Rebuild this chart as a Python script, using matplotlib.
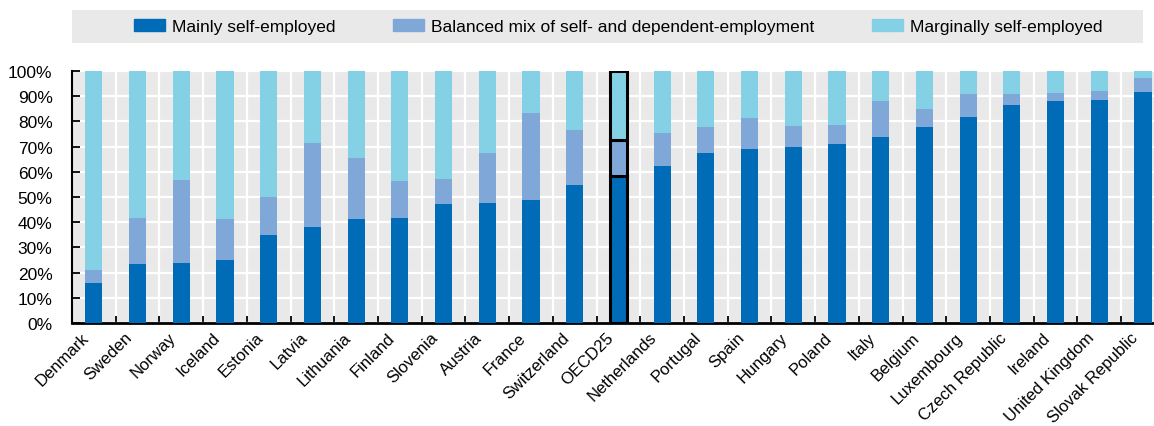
import matplotlib
matplotlib.use("Agg")
import matplotlib.pyplot as plt
import matplotlib.transforms as mtransforms
from matplotlib.patches import Rectangle, Patch
import numpy as np

plt.rcParams['font.family'] = ['Liberation Sans', 'DejaVu Sans']

paises = ["Denmark", "Sweden", "Norway", "Iceland", "Estonia", "Latvia", "Lithuania",
          "Finland", "Slovenia", "Austria", "France", "Switzerland", "OECD25",
          "Netherlands", "Portugal", "Spain", "Hungary", "Poland", "Italy", "Belgium",
          "Luxembourg", "Czech Republic", "Ireland", "United Kingdom", "Slovak Republic"]

# porcentajes de cada grupo
mainly = [16, 23.3, 23.9, 24.9, 35, 38, 41.2, 41.8, 47.1, 47.5, 48.8, 54.6, 58.5,
          62.3, 67.4, 69.0, 69.8, 71.2, 74.0, 77.7, 81.8, 86.5, 88.1, 88.3, 91.8]
balanced = [5, 18.2, 32.8, 16.5, 15, 33.6, 24.1, 14.6, 10.0, 19.9, 34.5, 21.9, 14.0,
            12.9, 10.4, 12.4, 8.4, 7.4, 14.0, 7.4, 9.2, 4.5, 3.3, 3.9, 5.3]
marginal = [100 - m - b for m, b in zip(mainly, balanced)]

c_main = "#006bb6"
c_bal = "#7fa8d9"
c_marg = "#84d1e5"
fondo = "#e9e9e9"

fig = plt.figure(figsize=(11.54, 4.27), dpi=100)
ax = fig.add_axes([0.0624, 0.2412, 0.947, 0.5902])
ax.set_facecolor(fondo)

x = np.arange(len(paises))
ancho = 0.39
oecd = paises.index("OECD25")
bordes = ["black" if i == oecd else "none" for i in x]
lw = [2.2 if i == oecd else 0 for i in x]

ax.bar(x, mainly, ancho, color=c_main, edgecolor=bordes, linewidth=lw, zorder=3)
ax.bar(x, balanced, ancho, bottom=mainly, color=c_bal, edgecolor=bordes, linewidth=lw, zorder=3)
bottom2 = [m + b for m, b in zip(mainly, balanced)]
ax.bar(x, marginal, ancho, bottom=bottom2, color=c_marg, edgecolor=bordes, linewidth=lw, zorder=3)

ax.set_xlim(-0.5, len(paises) - 0.5)
ax.set_ylim(0, 100)
ax.set_yticks(range(0, 101, 10))
ax.set_yticklabels([f"{v}%" for v in range(0, 101, 10)], fontsize=12.5)
ax.set_xticks(x)
ax.set_xticklabels(paises, rotation=45, ha="right", va="top", rotation_mode="anchor", fontsize=12)
ax.set_xticks(x[:-1] + 0.5, minor=True)
ax.tick_params(axis="x", which="major", length=0, pad=6)
ax.tick_params(axis="x", which="minor", length=5, width=1.3, direction="in", color="black")
ax.tick_params(axis="y", length=6, width=1.3, direction="in", pad=14)

# mover etiquetas un poco a la izquierda
desplaza = mtransforms.ScaledTranslation(-0.13, 0.02, fig.dpi_scale_trans)
for lab in ax.get_xticklabels():
    lab.set_transform(lab.get_transform() + desplaza)

ax.grid(axis="y", color="white", linewidth=1.6, zorder=1)
ax.grid(axis="x", which="minor", color="white", linewidth=1.6, zorder=1)
ax.set_axisbelow(True)

for s in ["top", "right"]:
    ax.spines[s].set_visible(False)
ax.spines["left"].set_linewidth(1.5)
ax.spines["bottom"].set_linewidth(2)

# leyenda con fondo gris
fig.patches.append(Rectangle((0.0624, 0.897), 0.928, 0.0773, transform=fig.transFigure,
                             facecolor=fondo, edgecolor="none", zorder=0))
handles = [Patch(color=c_main), Patch(color=c_bal), Patch(color=c_marg)]
labels = ["Mainly self-employed", "Balanced mix of self- and dependent-employment",
          "Marginally self-employed"]
fig.legend(handles, labels, loc="center left", bbox_to_anchor=(134 / 1154, 0.9356),
           ncol=3, frameon=False, fontsize=12.5, borderpad=0, borderaxespad=0,
           handlelength=1.8, handleheight=0.7, handletextpad=0.4, columnspacing=3.3)

plt.savefig("out.png", dpi=100)
